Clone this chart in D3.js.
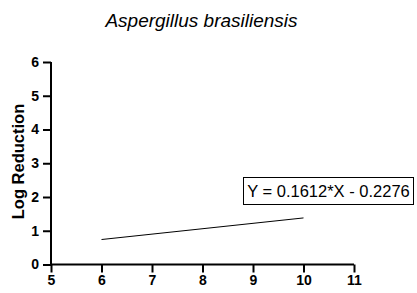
<!DOCTYPE html>
<html>
<head>
<meta charset="utf-8">
<script src="https://cdn.jsdelivr.net/npm/d3@7"></script>
<style>
body { margin: 0; background: #fff; }
text { font-family: Arial, "Liberation Sans", sans-serif; }
</style>
</head>
<body>
<script>
// fitted line
var lineX = [6, 10];
var lineY = [0.74, 1.38];
var xTicks = [5, 6, 7, 8, 9, 10, 11];
var yTicks = [0, 1, 2, 3, 4, 5, 6];
var title = "Aspergillus brasiliensis";
var eqText = "Y = 0.1612*X - 0.2276";

var W = 417, H = 293;
var margin = {top: 62, right: 63, bottom: 28.5, left: 51},
    width = W - margin.left - margin.right,
    height = H - margin.top - margin.bottom;

var svg = d3.select("body").append("svg")
    .attr("width", W)
    .attr("height", H);

var g = svg.append("g")
    .attr("transform", "translate(" + margin.left + "," + margin.top + ")");

var x = d3.scaleLinear().domain([5, 11]).range([0, 303]);
var y = d3.scaleLinear().domain([0, 6]).range([height, 0]);

var xAxis = d3.axisBottom(x).tickValues(xTicks).tickFormat(d3.format("d"))
    .tickSize(8).tickPadding(3).tickSizeOuter(0);
var yAxis = d3.axisLeft(y).tickValues(yTicks).tickFormat(d3.format("d"))
    .tickSize(8).tickPadding(4).tickSizeOuter(0);

var gx = g.append("g")
    .attr("transform", "translate(0," + height + ")")
    .call(xAxis);
var gy = g.append("g").call(yAxis);

[gx, gy].forEach(function(a) {
    a.selectAll("path, line").attr("stroke", "#000").attr("stroke-width", 2);
    a.selectAll("text")
        .attr("fill", "#000")
        .style("font-family", "Arial, 'Liberation Sans', sans-serif")
        .style("font-size", "14px")
        .style("font-weight", "bold");
});
gy.select(".domain").attr("d", "M0," + (height + 1) + "V0");
gx.select(".domain").attr("d", "M-1,0H" + x(11));

// fitted line
var pts = lineX.map(function(d, i) { return [d, lineY[i]]; });
g.append("path")
    .datum(pts)
    .attr("fill", "none")
    .attr("stroke", "#000")
    .attr("stroke-width", 1)
    .attr("d", d3.line()
        .x(function(d) { return x(d[0]); })
        .y(function(d) { return y(d[1]); }));

// equation box
var eq = svg.append("g").attr("transform", "translate(243.5,177.5)");
eq.append("rect")
    .attr("width", 170)
    .attr("height", 27)
    .attr("fill", "#fff")
    .attr("stroke", "#000")
    .attr("stroke-width", 1);
eq.append("text")
    .attr("x", 85)
    .attr("y", 19.5)
    .attr("text-anchor", "middle")
    .style("font-size", "16.5px")
    .text(eqText);

// title
svg.append("text")
    .attr("x", 201.5)
    .attr("y", 26.5)
    .attr("text-anchor", "middle")
    .style("font-size", "19px")
    .style("font-style", "italic")
    .text(title);

// y label
svg.append("text")
    .attr("transform", "translate(23.5,161.5) rotate(-90)")
    .attr("text-anchor", "middle")
    .style("font-size", "16.5px")
    .style("font-weight", "bold")
    .text("Log Reduction");
</script>
</body>
</html>
